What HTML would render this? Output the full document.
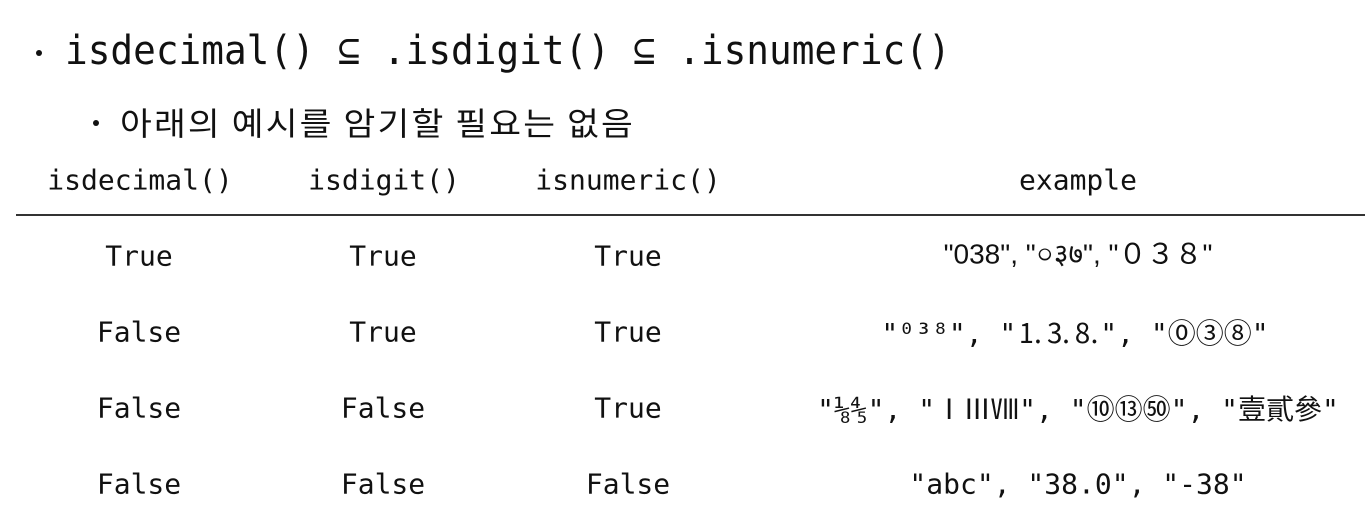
<!DOCTYPE html>
<html><head><meta charset="utf-8"><style>
body{margin:0;width:1365px;height:525px;background:#fff;position:relative;overflow:hidden;color:#111}
.t{position:absolute;white-space:pre;font-family:"DejaVu Sans Mono","Liberation Mono",monospace;transform-origin:0 0}
.c{position:absolute;white-space:pre;transform:translate(-50%,-50%);font-family:"DejaVu Sans Mono","Liberation Mono",monospace;font-size:28px}
.s{font-family:"DejaVu Sans","Liberation Sans","Noto Sans CJK KR",sans-serif}
</style></head><body>
<div style="position:absolute;left:36px;top:50px;width:6px;height:6px;border-radius:3px;background:#111"></div>
<div class="t" style="left:65px;top:26px;font-size:40px;line-height:50px;transform:scaleX(0.943)">isdecimal() ⊆ .isdigit() ⊆ .isnumeric()</div>
<div style="position:absolute;left:93px;top:120px;width:6px;height:6px;border-radius:3px;background:#111"></div>
<div class="t" style="left:120px;top:100px;font-size:32px;line-height:44px;font-family:'Noto Sans CJK KR',sans-serif;letter-spacing:2px;transform:scaleX(1.08)">아래의 예시를 암기할 필요는 없음</div>
<div class="c" style="left:140px;top:180px">isdecimal()</div>
<div class="c" style="left:384px;top:180px">isdigit()</div>
<div class="c" style="left:628px;top:180px">isnumeric()</div>
<div class="c" style="left:1078px;top:180px">example</div>
<div style="position:absolute;left:16px;top:214px;width:1349px;height:2px;background:#333"></div>

<div class="c" style="left:139px;top:256px">True</div>
<div class="c" style="left:383px;top:256px">True</div>
<div class="c" style="left:628px;top:256px">True</div>
<div class="c s" style="left:1078px;top:256px;font-family:'Liberation Sans','DejaVu Sans',sans-serif">"038", "০३७", "０３８"</div>

<div class="c" style="left:139px;top:332px">False</div>
<div class="c" style="left:383px;top:332px">True</div>
<div class="c" style="left:628px;top:332px">True</div>
<div class="c" style="left:1075px;top:332px">"⁰³⁸", "<span class="s">⒈⒊⒏</span>", "<span style="font-family:'Noto Sans CJK KR',sans-serif">⓪③⑧</span>"</div>

<div class="c" style="left:139px;top:408px">False</div>
<div class="c" style="left:383px;top:408px">False</div>
<div class="c" style="left:628px;top:408px">True</div>
<div class="c" style="left:1078px;top:408px">"⅛⅘", "<span style="font-family:'Noto Sans CJK KR',sans-serif">ⅠⅢⅧ</span>", "<span style="font-family:'Noto Sans CJK KR',sans-serif">⑩⑬㊿</span>", "<span style="font-family:'Noto Sans CJK SC',sans-serif">壹貳參</span>"</div>

<div class="c" style="left:139px;top:484px">False</div>
<div class="c" style="left:383px;top:484px">False</div>
<div class="c" style="left:628px;top:484px">False</div>
<div class="c" style="left:1078px;top:484px">"abc", "38.0", "-38"</div>
</body></html>
